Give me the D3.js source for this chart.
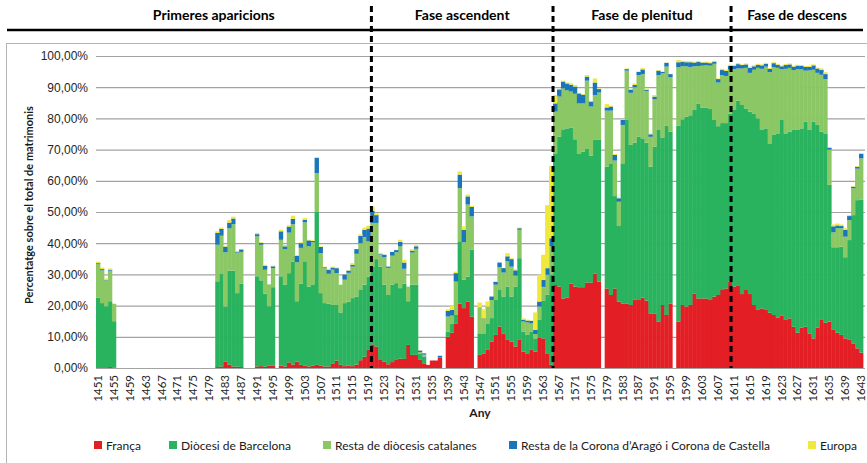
<!DOCTYPE html>
<html>
<head>
<meta charset="utf-8">
<script src="https://cdn.jsdelivr.net/npm/d3@7"></script>
<style>
  body { margin: 0; background: #fff; }
  svg { display: block; font-family: Lato, "Open Sans", sans-serif; }
</style>
</head>
<body>
<svg id="chart" width="867" height="463"></svg>
<script>

// categories
var firstYear = 1451, lastYear = 1643;
var years = d3.range(firstYear, lastYear + 1);
var tickYears = d3.range(firstYear, lastYear + 1, 4);

var seriesNames = ["França", "Diòcesi de Barcelona", "Resta de diòcesis catalanes",
  "Resta de la Corona d\u2019Aragó i Corona de Castella", "Europa"];
var seriesColors = ["#e31e24", "#29b35f", "#8cc765", "#1b75bb", "#f0e83a"];

var phases = [
  { name: "Primeres aparicions", from: 1441, to: 1520.3 },
  { name: "Fase ascendent", from: 1520.3, to: 1566 },
  { name: "Fase de plenitud", from: 1566, to: 1610.8 },
  { name: "Fase de descens", from: 1610.8, to: 1644 }
];
var phaseBreaks = [1520.3, 1566, 1610.8];

// values in % of total marriages, one per year 1451..1643
var franca = [
  0, 0, 0, 0.3, 0.2, 0, 0, 0, 0, 0,
  0, 0, 0, 0, 0, 0, 0, 0, 0, 0,
  0, 0, 0, 0, 0, 0, 0, 0, 0, 0,
  0.3, 0.5, 2.1, 1.1, 0.5, 0.4, 0.3, 0, 0, 0,
  0.5, 0.6, 0.4, 0.7, 0.7, 0, 0.8, 0.5, 1.8, 1.1,
  2.0, 1.0, 0.8, 0.5, 0.8, 1.0, 0.8, 0.5, 0.5, 1.5,
  2.4, 1.0, 0.6, 0.8, 0.6, 1.1, 2.5, 3.6, 5.8, 7.6,
  6.9, 2.8, 2.0, 1.2, 1.9, 2.8, 3.0, 2.9, 7.4, 4.2,
  4.2, 2.6, 1.5, 1.0, 2.4, 2.4, 3.4, 0, 10.0, 11.3,
  14.3, 20.6, 19.2, 21.3, 16.5, 0, 4.2, 4.7, 5.8, 8.5,
  10.6, 13.3, 11.1, 9.0, 8.5, 6.9, 9.0, 5.2, 4.7, 5.8,
  5.2, 9.7, 9.5, 4.5, 1.0, 26.6, 26.1, 22.3, 22.5, 27.1,
  26.1, 25.9, 25.9, 27.4, 27.4, 30.3, 27.7, 0, 25.5, 23.4,
  25.5, 21.3, 20.7, 20.7, 20.2, 22.0, 21.8, 22.6, 21.6, 17.5,
  17.5, 14.9, 20.2, 17.0, 20.7, 0, 14.9, 20.2, 19.7, 20.2,
  23.9, 22.3, 22.3, 22.3, 21.8, 22.9, 23.4, 25.0, 25.5, 27.7,
  26.1, 26.3, 23.7, 25.0, 23.7, 20.2, 18.8, 19.1, 18.6, 17.7,
  17.0, 16.2, 16.7, 15.4, 15.9, 13.2, 11.3, 13.0, 13.2, 11.1,
  9.5, 13.0, 15.4, 14.5, 14.9, 12.2, 11.3, 10.6, 9.5, 9.0,
  7.9, 6.3, 4.9
];
var diocesiBarcelona = [
  22.6, 20.8, 19.8, 21.1, 14.8, 0, 0, 0, 0, 0,
  0, 0, 0, 0, 0, 0, 0, 0, 0, 0,
  0, 0, 0, 0, 0, 0, 0, 0, 0, 0,
  27.5, 29.6, 17.6, 30.1, 30.7, 23.6, 26.7, 0, 0, 0,
  28.9, 27.5, 23.4, 19.1, 25.2, 0, 28.6, 26.2, 28.6, 33.0,
  19.4, 26.0, 33.4, 25.6, 26.0, 49.0, 23.2, 20.3, 20.1, 18.7,
  17.8, 16.8, 20.2, 20.5, 21.8, 21.8, 22.5, 23.1, 23.5, 24.9,
  28.0, 29.7, 24.7, 22.2, 24.8, 24.4, 22.6, 24.1, 14.0, 22.5,
  22.5, 1.9, 2.2, 0, 0, 0, 0, 0, 1.7, 3.0,
  2.7, 20.0, 9.1, 8.0, 21.4, 0, 6.9, 6.4, 8.5, 7.5,
  11.2, 11.7, 11.8, 17.1, 14.4, 19.2, 26.2, 6.5, 5.9, 5.9,
  4.3, 5.7, 12.0, 19.0, 29.0, 42.2, 48.0, 54.2, 54.3, 50.0,
  47.2, 42.7, 43.4, 43.0, 40.6, 42.8, 45.4, 0, 39.0, 42.2,
  29.6, 24.2, 44.9, 58.8, 51.3, 50.2, 52.3, 51.0, 50.6, 47.0,
  53.4, 61.4, 53.7, 60.6, 55.0, 0, 62.7, 59.5, 60.8, 60.8,
  58.8, 62.5, 61.2, 61.2, 61.2, 56.6, 54.1, 53.5, 53.0, 53.8,
  56.6, 59.4, 60.6, 58.2, 58.5, 61.4, 61.2, 57.2, 58.2, 54.3,
  57.7, 59.0, 62.8, 59.8, 59.8, 63.1, 65.0, 63.8, 65.8, 65.2,
  69.5, 64.9, 60.3, 60.7, 43.8, 26.5, 27.4, 28.3, 26.0, 32.0,
  41.1, 47.5, 49.1
];
var restaCatalanes = [
  10.7, 10.5, 8.3, 9.8, 5.6, 0, 0, 0, 0, 0,
  0, 0, 0, 0, 0, 0, 0, 0, 0, 0,
  0, 0, 0, 0, 0, 0, 0, 0, 0, 0,
  11.7, 12.3, 17.4, 13.6, 14.9, 13.0, 10.2, 0, 0, 0,
  12.8, 11.4, 7.7, 7.0, 6.1, 0, 11.7, 11.4, 13.0, 12.0,
  12.5, 11.5, 12.5, 12.9, 13.5, 12.5, 12.8, 11.2, 9.6, 11.3,
  10.2, 8.9, 7.5, 9.2, 10.1, 13.7, 15.0, 15.3, 11.3, 14.0,
  11.6, 3.8, 8.8, 8.7, 9.3, 9.9, 13.4, 4.8, 4.7, 10.3,
  11.5, 0.6, 0.6, 0, 0, 0, 0, 0, 4.8, 2.5,
  10.7, 17.1, 12.0, 23.1, 10.7, 0, 8.4, 4.9, 5.4, 5.8,
  4.9, 7.3, 7.7, 8.1, 9.6, 3.5, 9.1, 3.2, 4.0, 2.6,
  1.4, 4.3, 4.5, 6.4, 9.0, 13.4, 12.9, 13.1, 12.2, 11.5,
  14.6, 16.2, 15.5, 21.7, 15.8, 14.4, 15.2, 0, 18.0, 16.9,
  11.4, 7.8, 12.3, 15.8, 16.7, 17.8, 19.8, 20.6, 16.6, 9.6,
  15.2, 17.6, 20.6, 19.0, 17.5, 0, 18.8, 17.1, 16.2, 15.5,
  14.0, 12.0, 13.4, 13.6, 13.9, 18.0, 14.0, 15.4, 15.1, 14.1,
  13.1, 10.3, 11.7, 13.0, 12.4, 14.0, 16.2, 19.6, 19.8, 22.8,
  21.7, 21.0, 16.3, 20.7, 20.5, 19.2, 19.5, 18.9, 16.3, 19.1,
  16.6, 16.7, 18.3, 17.4, 11.3, 4.8, 6.1, 5.9, 6.6, 6.4,
  8.6, 10.1, 13.2
];
var coronaAragoCastella = [
  0.3, 0.4, 0.2, 0.3, 0, 0, 0, 0, 0, 0,
  0, 0, 0, 0, 0, 0, 0, 0, 0, 0,
  0, 0, 0, 0, 0, 0, 0, 0, 0, 0,
  3.8, 2.2, 1.8, 1.8, 1.8, 0.3, 0.8, 0, 0, 0,
  0.7, 0.6, 1.2, 0, 0.6, 0, 2.7, 0.9, 1.9, 1.7,
  2.0, 1.5, 0.8, 1.9, 0.4, 4.8, 2.0, 0.3, 1.3, 0.7,
  1.6, 0, 1.6, 0.7, 0.6, 1.5, 2.3, 2.3, 4.1, 3.9,
  2.5, 0.2, 0.8, 0.4, 1.2, 0.7, 1.4, 2.0, 0, 0.6,
  0.8, 0.5, 0.4, 0, 0, 0, 0.5, 0, 1.8, 1.8,
  2.7, 4.3, 4.0, 2.6, 3.0, 0, 0, 0, 0, 1.1,
  0.9, 1.5, 1.4, 1.6, 2.4, 1.7, 0.5, 0.6, 0.6, 0.8,
  1.3, 1.6, 2.2, 2.1, 2.6, 2.6, 2.3, 2.2, 2.2, 2.2,
  2.3, 3.2, 2.8, 1.3, 1.6, 4.0, 1.1, 0, 1.0, 1.3,
  1.8, 1.1, 1.6, 0.5, 1.0, 0.7, 1.0, 1.5, 0.3, 0.8,
  0.9, 1.4, 0.4, 1.2, 1.0, 0, 1.6, 1.3, 1.3, 1.5,
  1.2, 1.3, 1.0, 0.8, 0.8, 0.7, 1.1, 1.6, 1.6, 1.2,
  1.0, 1.4, 1.1, 1.1, 1.6, 1.1, 1.0, 1.1, 0.9, 1.1,
  1.3, 1.0, 0.9, 1.2, 1.1, 1.1, 1.1, 1.1, 1.2, 1.1,
  1.4, 1.4, 1.5, 1.6, 0.6, 1.9, 0.9, 0.7, 2.2, 1.3,
  0.5, 0.6, 1.4
];
var europa = [
  0.5, 0.5, 0.4, 0.4, 0, 0, 0, 0, 0, 0,
  0, 0, 0, 0, 0, 0, 0, 0, 0, 0,
  0, 0, 0, 0, 0, 0, 0, 0, 0, 0,
  0.5, 0.4, 0.3, 0.8, 0.6, 0.2, 0.1, 0, 0, 0,
  0.4, 0.2, 0.4, 0, 0.2, 0, 0.5, 0.4, 0.5, 1.0,
  0.3, 0.3, 0.6, 0.2, 0.2, 0.3, 0.2, 0.2, 0.2, 0.3,
  0.2, 0, 0, 0.1, 0.5, 0, 0.5, 0.7, 0.9, 1.4,
  0.6, 0.4, 0, 0, 0, 0.1, 0.7, 0.9, 0, 0.5,
  0.5, 0.1, 0, 0, 0, 0, 0.2, 0, 0.5, 1.3,
  0.5, 1.0, 1.1, 0.6, 0.4, 0, 1.5, 2.8, 1.6, 0,
  0.1, 0, 0, 1.0, 0.3, 0.4, 0.2, 0.4, 0.3, 0.1,
  5.6, 8.6, 8.1, 20.2, 23.1, 2.7, 0.2, 0.3, 0.3, 0.4,
  0.5, 0.2, 0.2, 0.5, 0.2, 1.3, 0.2, 0, 1.1, 0.3,
  0.3, 0.3, 0.2, 0.2, 0.1, 0.5, 0.1, 0.4, 0.5, 0.3,
  0.5, 0.2, 0.1, 0.1, 0.1, 0, 0.7, 0.4, 0.4, 0.3,
  0.3, 0.3, 0.2, 0.3, 0.3, 0.2, 0.2, 0.4, 0.4, 0.4,
  0.3, 0.3, 0.2, 0.3, 0.3, 0.3, 0.3, 0.3, 0.3, 0.3,
  0.3, 0.3, 0.3, 0.3, 0.3, 0.3, 0.3, 0.3, 0.3, 0.3,
  0.3, 0.3, 0.5, 0.6, 0.1, 0.6, 0.6, 0.5, 0.5, 0.3,
  0.2, 0.2, 0.3
];

var seriesValues = [franca, diocesiBarcelona, restaCatalanes, coronaAragoCastella, europa];
var keys = ["s0", "s1", "s2", "s3", "s4"];

var rows = years.map(function(yr, i) {
  var r = { year: yr };
  keys.forEach(function(k, j) { r[k] = seriesValues[j][i]; });
  return r;
});

var svg = d3.select("#chart");
var plot = { left: 96, right: 863, top: 56, bottom: 368 };

var x = d3.scaleBand().domain(years).range([plot.left, plot.right]).padding(0);
var xLin = d3.scaleLinear().domain([firstYear, lastYear + 1]).range([plot.left, plot.right]);
var y = d3.scaleLinear().domain([0, 100]).range([plot.bottom, plot.top]);

// outer frame
svg.append("rect")
  .attr("x", 6.5).attr("y", 43.5)
  .attr("width", 880).attr("height", 440)
  .attr("fill", "none").attr("stroke", "#b3b3b3").attr("stroke-width", 1);

// grid + y labels
var yAxis = svg.append("g")
  .attr("transform", "translate(" + plot.left + ",0)")
  .call(d3.axisLeft(y)
    .tickValues(d3.range(0, 101, 10))
    .tickSize(-(865 - plot.left))
    .tickPadding(8)
    .tickFormat(function(d) { return d3.format(".2f")(d).replace(".", ",") + "%"; }));
yAxis.select(".domain").remove();
yAxis.selectAll(".tick line")
  .attr("stroke", "#a3a3a3").attr("stroke-width", 1.2);
yAxis.selectAll(".tick text")
  .attr("fill", "#262626").style("font-size", "12px");

// stacked bars
var stacked = d3.stack().keys(keys)(rows);
svg.append("g").selectAll("g")
  .data(stacked)
  .enter().append("g")
  .attr("fill", function(d, i) { return seriesColors[i]; })
  .selectAll("rect")
  .data(function(d) { return d; })
  .enter().append("rect")
  .attr("x", function(d) { return x(d.data.year); })
  .attr("width", x.bandwidth() + 0.4)
  .attr("y", function(d) { return y(d[1]); })
  .attr("height", function(d) { return Math.max(0, y(d[0]) - y(d[1])); });

// x axis line
svg.append("line")
  .attr("x1", plot.left).attr("x2", 865)
  .attr("y1", plot.bottom + 0.5).attr("y2", plot.bottom + 0.5)
  .attr("stroke", "#a3a3a3").attr("stroke-width", 1.2);

// x tick labels
svg.append("g").selectAll("text")
  .data(tickYears)
  .enter().append("text")
  .attr("transform", function(d) {
    return "translate(" + (x(d) + x.bandwidth() / 2 + 4) + "," + (plot.bottom + 7) + ") rotate(-90)";
  })
  .attr("text-anchor", "end")
  .attr("fill", "#262626")
  .style("font-size", "11.5px")
  .text(function(d) { return d; });

// axis titles
svg.append("text")
  .attr("x", 480).attr("y", 417)
  .attr("text-anchor", "middle")
  .style("font-size", "12px").style("font-weight", "bold")
  .attr("fill", "#1a1a1a")
  .text("Any");

svg.append("text")
  .attr("transform", "translate(33,205) rotate(-90)")
  .attr("text-anchor", "middle")
  .style("font-size", "11px").style("font-weight", "bold")
  .attr("fill", "#1a1a1a")
  .text("Percentatge sobre el total de matrimonis");

// phase header
svg.append("line")
  .attr("x1", 7).attr("x2", 863)
  .attr("y1", 30).attr("y2", 30)
  .attr("stroke", "#000").attr("stroke-width", 2.6);

svg.append("g").selectAll("text")
  .data(phases)
  .enter().append("text")
  .attr("x", function(d) { return (xLin(d.from) + xLin(d.to)) / 2; })
  .attr("y", 20)
  .attr("text-anchor", "middle")
  .style("font-size", "14px").style("font-weight", "bold")
  .attr("fill", "#000")
  .text(function(d) { return d.name; });

svg.append("g").selectAll("line")
  .data(phaseBreaks)
  .enter().append("line")
  .attr("x1", function(d) { return xLin(d); })
  .attr("x2", function(d) { return xLin(d); })
  .attr("y1", 6).attr("y2", plot.bottom)
  .attr("stroke", "#000").attr("stroke-width", 3)
  .attr("stroke-dasharray", "6,4");

// legend
var legendX = [94, 169, 323, 509, 808];
var legend = svg.append("g").selectAll("g")
  .data(seriesNames)
  .enter().append("g")
  .attr("transform", function(d, i) { return "translate(" + legendX[i] + ",441)"; });
legend.append("rect")
  .attr("width", 8).attr("height", 8)
  .attr("fill", function(d, i) { return seriesColors[i]; });
legend.append("text")
  .attr("x", 12).attr("y", 8.5)
  .style("font-size", "12px")
  .attr("fill", "#1a1a1a")
  .text(function(d) { return d; });

</script>
</body>
</html>
